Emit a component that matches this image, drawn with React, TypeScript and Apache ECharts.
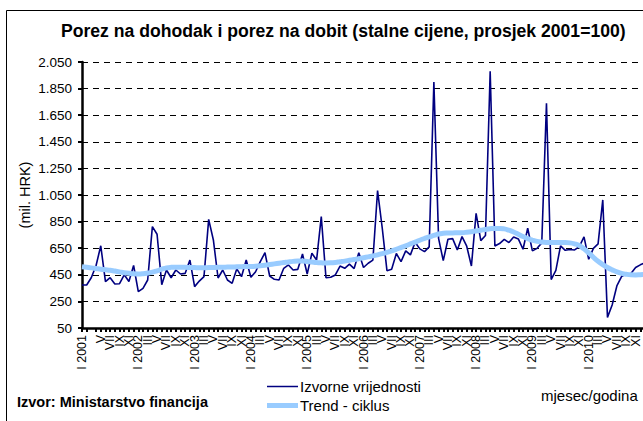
import React, { useEffect, useRef } from "react";
import * as echarts from "echarts";

const monthNames = ["I", "II", "III", "IV", "V", "VI", "VII", "VIII", "IX", "X", "XI", "XII"];
const years = [2001, 2002, 2003, 2004, 2005, 2006, 2007, 2008, 2009, 2010, 2011];

// Izvorne vrijednosti (mil. HRK), I 2001 – I 2011
const rawValues = [
  373, 373, 430, 520, 668, 398, 428, 381, 383, 450, 400, 520,
  323, 348, 411, 812, 755, 376, 486, 428, 486, 456, 461, 561,
  361, 403, 436, 867, 712, 426, 486, 411, 386, 495, 436, 561,
  431, 473, 549, 616, 441, 416, 411, 499, 524, 486, 491, 606,
  456, 612, 561, 887, 428, 431, 449, 516, 499, 530, 497, 616,
  505, 537, 561, 1083, 800, 481, 491, 610, 549, 630, 600, 695,
  645, 624, 660, 1900, 724, 556, 717, 722, 637, 737, 665, 516,
  912, 707, 745, 1980, 667, 685, 717, 692, 735, 720, 642, 800,
  630, 649, 690, 1740, 414, 484, 668, 634, 640, 637, 662, 735,
  567, 649, 683, 1013, 130, 223, 366, 436, 455, 460, 505, 525,
  540,
];

// Trend - ciklus
const trendValues = [
  510, 506, 502, 497, 492, 488, 484, 478, 472, 466, 461, 457,
  456, 458, 463, 470, 480, 492, 502, 506, 507, 507, 506, 505,
  504, 503, 503, 504, 505, 506, 507, 508, 509, 510, 511, 512,
  513, 515, 518, 522, 527, 532, 537, 542, 547, 551, 553, 553,
  550, 546, 542, 540, 539, 540, 543, 548, 553, 559, 565, 571,
  578, 585, 592, 600, 609, 619, 630, 642, 655, 668, 682, 696,
  710, 723, 735, 746, 757, 762, 764, 765, 766, 767, 770, 774,
  779, 785, 791, 796, 799, 799, 795, 785, 772, 755, 738, 722,
  710, 701, 696, 693, 692, 692, 692, 692, 690, 683, 670, 645,
  615, 582, 552, 527, 505, 487, 472, 461, 454, 450, 449, 451,
  454,
];

const yTicks = { min: 50, max: 2050, interval: 200 };

const titleText = "Porez na dohodak i porez na dobit (stalne cijene, prosjek 2001=100)";
const yAxisName = "(mil. HRK)";
const seriesNames = ["Izvorne vrijednosti", "Trend - ciklus"];
const sourceText = "Izvor: Ministarstvo financija";
const xAxisTitle = "mjesec/godina";

const categories: string[] = [];
years.forEach((y) => {
  monthNames.forEach((m, i) => {
    categories.push(i === 0 ? `${m} ${y}` : m);
  });
});
const cats = categories.slice(0, rawValues.length);

const fmtThousands = (v: number) =>
  v >= 1000 ? `${Math.floor(v / 1000)}.${String(v % 1000).padStart(3, "0")}` : String(v);

const FONT = "'Liberation Sans', Arial, sans-serif";

export default function App() {
  const ref = useRef<HTMLDivElement>(null);
  useEffect(() => {
    if (!ref.current) return;
    const chart = echarts.init(ref.current, undefined, { renderer: "svg" });
    chart.setOption({
      animation: false,
      backgroundColor: "#ffffff",
      textStyle: { fontFamily: FONT, color: "#000" },
      title: {
        text: titleText,
        left: 61,
        top: 22,
        padding: 0,
        textStyle: { fontFamily: FONT, fontSize: 17.6, fontWeight: "bold", color: "#000" },
      },
      grid: { left: 82, right: 15, top: 62, bottom: 93, containLabel: false },
      legend: {
        orient: "vertical",
        left: 267,
        top: 379,
        padding: 0,
        itemGap: 4,
        itemWidth: 31,
        itemHeight: 16,
        textStyle: { fontFamily: FONT, fontSize: 15, color: "#000", padding: [0, 0, 0, -3] },
        data: [
          { name: seriesNames[0], icon: "path://M0,0H31V1.5H0Z" },
          { name: seriesNames[1], icon: "path://M0,0H31V5H0Z" },
        ],
      },
      xAxis: {
        type: "category",
        data: cats,
        boundaryGap: false,
        axisLine: { show: true, onZero: false, lineStyle: { color: "#000", width: 2.5 } },
        axisTick: { show: true, interval: 0, length: 4, lineStyle: { color: "#000", width: 2 } },
        axisLabel: {
          interval: 1,
          rotate: 90,
          margin: 7,
          showMinLabel: true,
          showMaxLabel: false,
          hideOverlap: false,
          fontFamily: FONT,
          fontSize: 12.5,
          color: "#000",
        },
        splitLine: { show: false },
      },
      yAxis: {
        type: "value",
        min: yTicks.min,
        max: yTicks.max,
        interval: yTicks.interval,
        name: yAxisName,
        nameLocation: "middle",
        nameRotate: 90,
        nameGap: 50,
        nameMoveOverlap: false,
        nameTextStyle: { fontFamily: FONT, fontSize: 14.5, color: "#000" },
        axisLine: { show: true, lineStyle: { color: "#000", width: 2.5 } },
        axisTick: { show: true, length: 4, lineStyle: { color: "#000", width: 2 } },
        axisLabel: {
          margin: 10,
          fontFamily: FONT,
          fontSize: 13.5,
          color: "#000",
          formatter: (v: number) => fmtThousands(v),
        },
        splitLine: {
          show: true,
          lineStyle: { color: "#000", width: 1, type: [6, 5] },
        },
      },
      series: [
        {
          name: seriesNames[0],
          type: "line",
          data: rawValues,
          symbol: "none",
          lineStyle: { color: "#000080", width: 1.6 },
          itemStyle: { color: "#000080" },
          z: 2,
        },
        {
          name: seriesNames[1],
          type: "line",
          data: trendValues,
          symbol: "none",
          smooth: true,
          lineStyle: { color: "#99ccff", width: 5 },
          itemStyle: { color: "#99ccff" },
          z: 3,
        },
      ],
      graphic: [
        {
          type: "rect",
          shape: { x: 6.5, y: 10.5, width: 700, height: 500 },
          style: { fill: "none", stroke: "#000", lineWidth: 1 },
          silent: true,
          z: 100,
        },
        {
          type: "text",
          x: 17,
          y: 402,
          style: {
            text: sourceText,
            fontFamily: FONT,
            fontSize: 14.5,
            fontWeight: "bold",
            fill: "#000",
            verticalAlign: "middle",
          },
        },
        {
          type: "text",
          x: 541,
          y: 395,
          style: {
            text: xAxisTitle,
            fontFamily: FONT,
            fontSize: 15,
            fill: "#000",
            verticalAlign: "middle",
          },
        },
      ],
    });
    return () => chart.dispose();
  }, []);
  return (
    <div
      style={{
        position: "fixed",
        left: 0,
        top: 0,
        width: 643,
        height: 421,
        overflow: "hidden",
        background: "#fff",
      }}
    >
      <div ref={ref} style={{ width: 660, height: 421 }} />
    </div>
  );
}
